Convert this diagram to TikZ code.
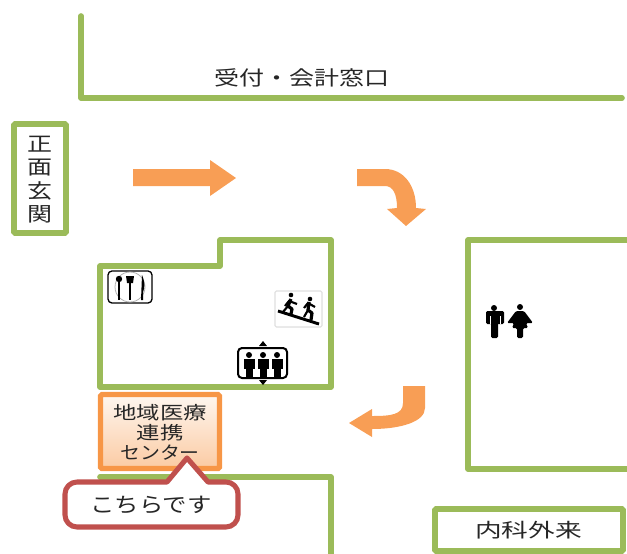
\documentclass[tikz,border=0pt]{standalone}
\usepackage{fontspec}
\usepackage{graphicx}
\setmainfont{Noto Sans CJK JP}
\definecolor{wall}{HTML}{9BBB59}
\definecolor{arr}{HTML}{F79646}
\definecolor{redline}{HTML}{C0504D}
\definecolor{ink}{HTML}{262626}
\tikzset{
 x=0.75pt,y=-0.75pt,
 wallline/.style={draw=wall,line width=4.2pt,line join=round,line cap=round},
 wallbox/.style={draw=wall,line width=4.4pt,rounded corners=1pt,rectangle,inner sep=0pt},
 arrowshape/.style={fill=arr!92!white,draw=none},
 jp/.style={inner sep=0pt,text=ink,align=center,font=\fontsize{15}{15}\selectfont},
 icon/.style={fill=black,draw=none},
}
\begin{document}
\begin{tikzpicture}
\useasboundingbox (0,0) rectangle (627,553);
% walls
\draw[wallline] (81,16) -- (81,98) -- (622,98);
\draw[wallline] (100,266) -- (220,266) -- (220,240) -- (331,240) -- (331,387) -- (100,387) -- cycle;
\draw[wallline] (100,477) -- (331,477) -- (331,555);
\draw[wallline,line width=3.8pt] (630,240) -- (468,240) -- (468,469) -- (630,469);
\node[wallbox,minimum width=39pt,minimum height=81.75pt] (gate) at (40,178.5) {};
\node[wallbox,minimum width=141pt,minimum height=31.5pt] (naika) at (529,530) {};
% labels
\node[jp,xscale=1.25] (uke) at (302,78) {受付・会計窓口};
\node[jp,xscale=1.25,font=\fontsize{15}{17.5}\selectfont] (gtext) at (40,179.5) {正\\面\\玄\\関};
\node[jp,font=\fontsize{14.5}{15}\selectfont,xscale=1.38] (ntext) at (528.5,530) {内科外来};
% arrows
\fill[arrowshape] (133,169) -- (210,169) -- (210,160) -- (236,178) -- (210,196) -- (210,186) -- (133,186) -- cycle;
\fill[arrowshape] (357,169) -- (385,169) .. controls (404,169) and (416,186) .. (416,208) -- (426,209) -- (406,226) -- (387,209) -- (397,208) .. controls (397,194) and (393,186) .. (385,186) -- (357,186) -- cycle;
\fill[arrowshape] (403,386) -- (425,386) -- (425,408) .. controls (425,422) and (400,429) .. (372,429) -- (372,437) -- (349,423) -- (372,409) -- (372,416) .. controls (390,416) and (403,415) .. (403,403) -- cycle;
% orange box
\node[draw=arr,line width=3.8pt,rounded corners=1pt,minimum width=89.25pt,minimum height=55.5pt,inner sep=0pt,top color=arr!8!white,bottom color=arr!50!white,rectangle] (center) at (160,431.5) {};
\node[jp,font=\fontsize{13.5}{15}\selectfont,xscale=1.3] (ctext) at (160,432) {地域医療\\連携\\\scalebox{0.85}[1]{センター}};
% callout
\draw[draw=redline,fill=white,line width=3.8pt,line join=round]
 (77,482) -- (167,482) -- (187,458) -- (208,482) -- (226,482)
 arc[start angle=-90,end angle=0,x radius=12,y radius=12] -- (238,515)
 arc[start angle=0,end angle=90,x radius=12,y radius=12] -- (77,527)
 arc[start angle=90,end angle=180,x radius=12,y radius=12] -- (65,494)
 arc[start angle=180,end angle=270,x radius=12,y radius=12] -- cycle;
\node[jp,font=\fontsize{15.5}{16}\selectfont,xscale=1.18] (ctext2) at (151,504.5) {こちらです};
% toilet
\fill[icon] (494,308) circle[radius=3];
\fill[icon,rounded corners=1pt] (486,311) rectangle (504,324);
\fill[white] (489.5,316) rectangle (490.5,324);
\fill[white] (499.5,316) rectangle (500.5,324);
\fill[icon,rounded corners=1pt] (491,320) rectangle (498,338);
\fill[icon] (520,307) circle[radius=3];
\fill[icon,rounded corners=1pt] (516,311) -- (524,311) -- (533,323) -- (526,323) -- (528,328) -- (523,328) -- (523,338) -- (517,338) -- (517,328) -- (512,328) -- (514,323) -- (507,323) -- cycle;
% restaurant icon
\draw[black,line width=1pt,rounded corners=3pt,fill=white] (108,271) rectangle (152,303);
\draw[gray!60,line width=0.6pt] (130,287) circle[radius=15];
\fill[icon] (119,279) circle[radius=3.2];
\draw[line width=2pt] (119,281) -- (119,300);
\draw[line width=2pt] (130,283) -- (130,300);
\fill[icon] (126,276) -- (134,276) -- (133,283) -- (127,283) -- cycle;
\fill[icon] (142,275) .. controls (145,282) and (145,288) .. (143,292) -- (143,300) -- (141,300) -- cycle;
% stairs icon
\draw[gray!25,line width=0.8pt,rounded corners=1pt,fill=white] (275,291) rectangle (322,327);
\draw[line width=2.2pt] (278,311) -- (319,324);
\fill[icon] (291,295) circle[radius=2.3]; \fill[icon] (310,299) circle[radius=2.3];
\draw[line width=2.4pt,line join=round] (291,299) -- (288,306) -- (292,309) -- (291,314);
\draw[line width=1.6pt] (285,306) -- (289,301) -- (297,304);
\draw[line width=1.6pt] (288,306) -- (283,312);
\draw[line width=2.4pt,line join=round] (309,302) -- (308,310) -- (312,313) -- (311,320);
\draw[line width=1.6pt] (304,308) -- (308,303) -- (315,307);
\draw[line width=1.6pt] (308,310) -- (304,317);
% elevator icon
\draw[black,line width=1.5pt,rounded corners=3pt,fill=white] (238,348) rectangle (287,378);
\foreach \u in {249,263,277}{
 \fill[icon] (\u,355) circle[radius=3];
 \fill[icon] (\u-5.5,359) rectangle (\u+5.5,369);
 \fill[icon] (\u-3.5,369) rectangle (\u+3.5,377);
}
\fill[icon] (259,346) -- (267,346) -- (263,341) -- cycle;
\fill[icon] (259,380) -- (267,380) -- (263,385) -- cycle;
\end{tikzpicture}
\end{document}
